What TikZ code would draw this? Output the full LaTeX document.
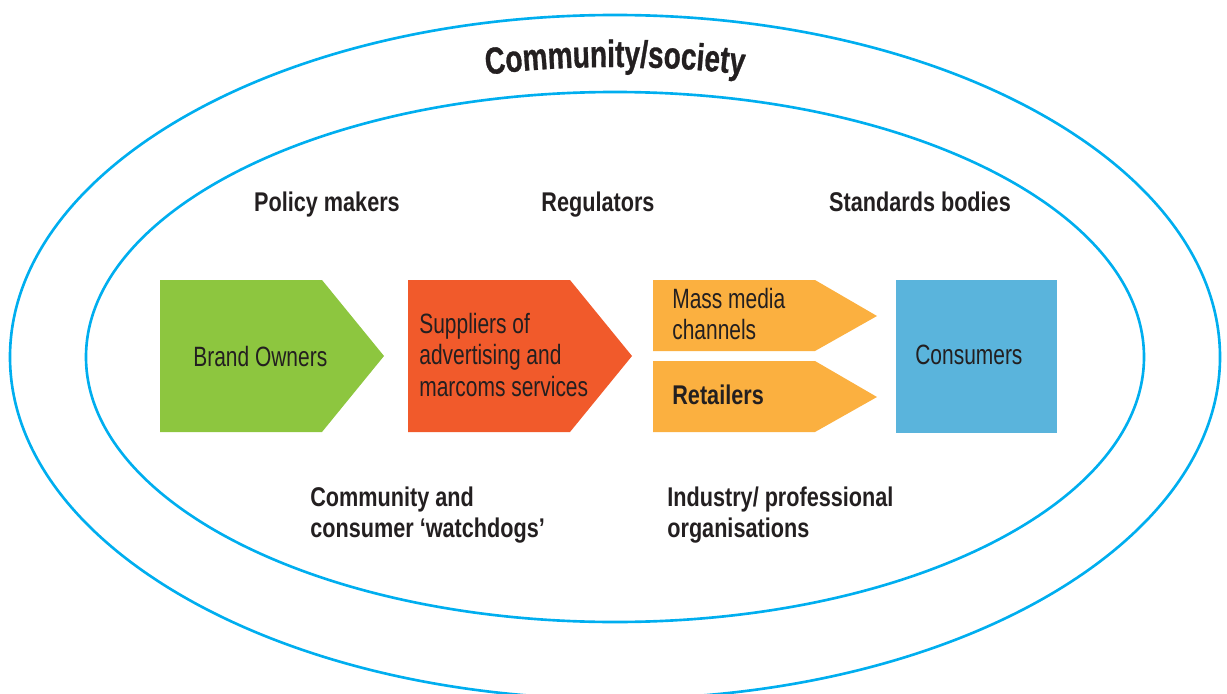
\documentclass[tikz,border=0pt]{standalone}
\usepackage{fontspec}
\setmainfont{Liberation Sans}[FakeStretch=0.75]
\newfontfamily\labelfont{Liberation Sans}[FakeStretch=0.8]
\newfontfamily\titlefont{Liberation Sans}[FakeStretch=0.74, FakeBold=0.8]
\usepackage{tikz}
\usetikzlibrary{decorations.text}
\definecolor{ringblue}{HTML}{00AEEF}
\definecolor{ownergreen}{HTML}{8DC63F}
\definecolor{supplyred}{HTML}{F15A2B}
\definecolor{mediaamber}{HTML}{FBB040}
\definecolor{consumerblue}{HTML}{5AB4DC}
\definecolor{txt}{HTML}{231F20}

\tikzset{
  ring/.style={draw=ringblue, line width=1.5pt},
  boxtext/.style={anchor=west, inner sep=0pt, align=left, text=txt,
    font=\fontsize{15.9}{18.1}\selectfont},
  actor/.style={inner sep=0pt, align=left, text=txt,
    font=\labelfont\bfseries\fontsize{15.4}{18.1}\selectfont}
}

\begin{document}
\begin{tikzpicture}[x=0.02cm, y=-0.02cm]
\useasboundingbox (0,0) rectangle (1227,693);

\draw[ring] (615,357) ellipse [x radius=605, y radius=342];
\draw[ring] (615,357) ellipse [x radius=529, y radius=265];

\path[decorate, decoration={text along path, text align=center, text color=txt,
  text={|\titlefont\bfseries\fontsize{21.5}{25}\selectfont|Community/society}}]
  (615,357) ++(250:560 and 290)
  arc [start angle=250, end angle=290, x radius=560, y radius=290];

\fill[ownergreen] (160,280) -- (322,280) -- (384,356) -- (322,432) -- (160,432) -- cycle;
\fill[supplyred] (408,280) -- (570,280) -- (632,356) -- (570,432) -- (408,432) -- cycle;
\fill[mediaamber] (653,280) -- (815,280) -- (877,316) -- (815,351) -- (653,351) -- cycle;
\fill[mediaamber] (653,361) -- (815,361) -- (877,397) -- (815,432) -- (653,432) -- cycle;
\fill[consumerblue] (896,280) rectangle (1057,433);

\draw (193,357) node[boxtext] (owners) {Brand Owners};
\draw (419,355) node[boxtext] (suppliers) {Suppliers of\\advertising and\\marcoms services};
\draw (672,314) node[boxtext] (media) {Mass media\\channels};
\draw (672,395) node[boxtext, font=\labelfont\bfseries\fontsize{15.4}{18.1}\selectfont] (retailers) {Retailers};
\draw (915,355) node[boxtext] (consumers) {Consumers};

\draw (327,211) node[actor, anchor=base] (policy) {Policy makers};
\draw (598,211) node[actor, anchor=base] (regulators) {Regulators};
\draw (920,211) node[actor, anchor=base] (standards) {Standards bodies};
\draw (310,515) node[actor, anchor=west] (watchdogs) {Community and\\consumer ‘watchdogs’};
\draw (667,515) node[actor, anchor=west] (industry) {Industry/ professional\\organisations};
\end{tikzpicture}
\end{document}
